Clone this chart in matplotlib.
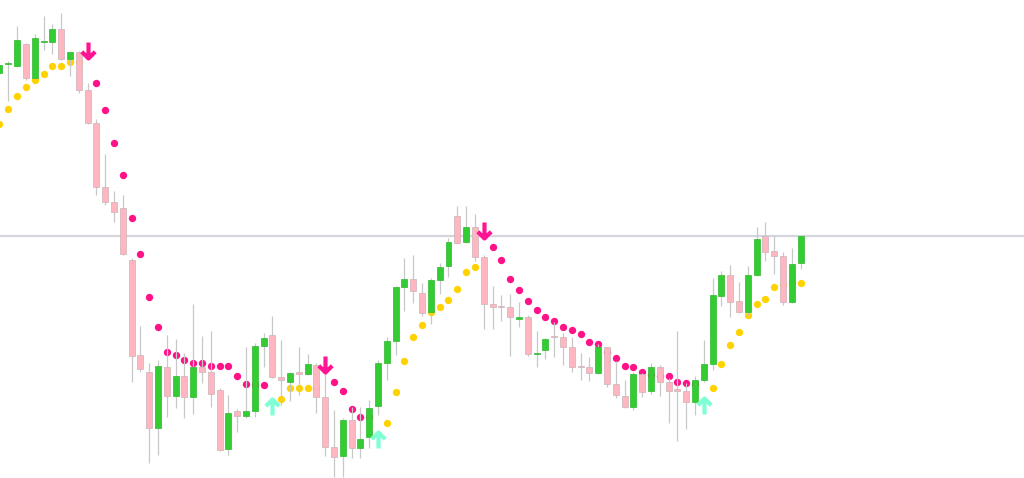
import numpy as np
import matplotlib
matplotlib.use('Agg')
import matplotlib.pyplot as plt
from matplotlib.path import Path

# 캔들 데이터 (차트에서 읽은 값, 화면 위에서부터의 높이 단위)
opens = [73, 64.5, 66, 44, 78, 42.3, 42, 29, 59, 52,
         90, 123, 187, 202, 208, 260, 355, 372, 428, 367,
         396, 376, 397, 367, 372, 390, 449, 411, 416, 411,
         346, 335, 377, 382, 372, 374, 365, 397, 447, 456,
         420, 448, 437, 406, 363, 341, 287, 279, 293, 312,
         280, 266, 216, 242, 227, 257, 304, 306.5, 307, 318.7,
         317, 354, 350, 336, 337, 347, 366.5, 367, 373, 347,
         384, 396, 407, 374, 391, 367, 382, 389, 391, 402,
         380, 364, 296, 275, 301, 312, 275, 236, 251, 256,
         302, 263]
highs = [62, 61, 26, 43, 34, 16, 24, 13, 51, 51,
         83, 119, 154, 191, 195, 258, 326, 363, 360, 335,
         339, 353, 304, 336, 331, 388, 395, 409, 347, 343,
         333, 316, 340, 372, 347, 354, 363, 373, 410, 418,
         407, 407, 400, 360, 337, 286, 258, 255, 283, 278,
         263, 238, 206, 206, 214, 255, 286, 295, 294, 302,
         315, 331, 338, 322, 333, 337, 353, 357, 344, 347,
         361, 380, 372, 373, 363, 365, 378, 331, 383, 376,
         340, 278, 271, 265, 282, 266, 227, 222, 236, 252,
         248, 236]
lows = [75, 101, 67, 80, 79, 50, 54, 60, 76, 93,
        124, 195, 205, 222, 255, 382, 372, 463, 455, 417,
        408, 418, 414, 383, 407, 451, 455, 432, 418, 417,
        367, 378, 405, 401, 395, 375, 413, 456, 477, 477,
        458, 458, 448, 415, 380, 355, 311, 303, 316, 324,
        294, 277, 243, 243, 261, 329, 329, 321, 356, 327,
        356, 367, 359, 357, 365, 372, 380, 381, 374, 387,
        398, 408, 410, 397, 394, 396, 423, 441, 429, 415,
        382, 370, 306, 317, 313, 315, 276, 261, 274, 305,
        303, 269]
closes = [65, 64.5, 40, 78, 38, 42.3, 29, 59.5, 52, 90,
          123, 187, 202, 212, 254, 356, 369, 428, 366, 396,
          376, 397, 367, 372, 394, 450, 413, 416, 411, 346,
          338, 377, 380, 373, 374, 364, 397, 447, 457, 420,
          448, 439, 408, 363, 341, 287, 279, 291, 313, 280,
          267, 242, 243, 227, 257, 304, 307, 307, 317, 317.3,
          354, 354, 339, 337.5, 347, 367, 367, 373, 347, 384,
          395, 407, 374, 392, 367, 382, 391, 391, 402, 380,
          364, 295, 275, 302, 312, 275, 239, 252, 256, 302,
          264, 236]

# 파라볼릭 SAR 점
sar_up_idx = [0, 1, 2, 3, 4, 5, 6, 7, 8, 9,
              32, 33, 34, 35, 36,
              44, 45, 46, 47, 48, 49, 50, 51, 52, 53, 54,
              81, 82, 83, 84, 85, 86, 87, 88, 89, 90, 91]
sar_up = [124, 109.3, 96.3, 87, 80, 74, 65.7, 65.7, 62, 62,
          399, 388, 388, 388, 388,
          422.7, 392.3, 361, 337.3, 324.7, 312.3, 307.3, 300, 289.3, 271.7, 266.7,
          387.7, 364.3, 345, 332, 315, 304.3, 299.3, 287.3, 285, 283.5, 282.7]
sar_dn_idx = list(range(11, 31)) + list(range(38, 43)) + list(range(56, 80))
sar_dn = [83, 110.3, 143.3, 175, 218.3, 254, 297.3, 326.7, 352.3, 355,
          360, 362.7, 362.7, 366, 366, 366, 376, 384.3, 385, 385,
          382, 391.3, 409.3, 417.3, 417,
          246.7, 260.3, 278.7, 290.3, 300.7, 310.3, 317.3, 320.7, 327.3, 330,
          334.3, 342.3, 344.3, 352, 358, 366, 366.7, 372, 375, 376,
          376, 382, 383.5, 384]

# 신호 화살표
arrow_dn_idx = [10, 37, 55]
arrow_dn_y = [50.5, 364.5, 230.5]
arrow_up_idx = [31, 43, 80]
arrow_up_y = [407.5, 440, 406.5]

last_price = 236


def to_price(v):
    return 1.1650 - np.asarray(v, dtype=float) / 10000


o = to_price(opens)
h = to_price(highs)
l = to_price(lows)
c = to_price(closes)
x = np.arange(len(o))

fig = plt.figure(figsize=(10.24, 4.78), dpi=100)
ax = fig.add_axes([0, 0, 1, 1])

# 현재가 라인
ax.axhline(to_price(last_price), color='#d3d7db', lw=1.6, zorder=0)

# SAR
ax.scatter(sar_up_idx, to_price(sar_up), s=28, color='#ffd200', lw=0, zorder=1)
ax.scatter(sar_dn_idx, to_price(sar_dn), s=28, color='#ff1188', lw=0, zorder=1)

# 꼬리
ax.vlines(x, l, h, color='#c8c8c8', lw=0.9, zorder=2)

# 몸통
bull = c >= o
body_h = np.maximum(np.abs(c - o), 0.00012)
bottom = np.minimum(o, c)
ax.bar(x[bull], body_h[bull], bottom=bottom[bull], width=0.68,
       color='#33cc33', edgecolor='#2fb52f', lw=0.5, zorder=3)
ax.bar(x[~bull], body_h[~bull], bottom=bottom[~bull], width=0.68,
       color='#ffb6c1', edgecolor='#c9b4b8', lw=0.5, zorder=3)

# 화살표 마커
down_arrow = Path([(0, 0.5), (0, -0.5), (-0.42, -0.08), (0, -0.5), (0.42, -0.08)],
                  [Path.MOVETO, Path.LINETO, Path.MOVETO, Path.LINETO, Path.LINETO])
up_arrow = Path([(0, -0.5), (0, 0.5), (-0.42, 0.08), (0, 0.5), (0.42, 0.08)],
                [Path.MOVETO, Path.LINETO, Path.MOVETO, Path.LINETO, Path.LINETO])
ax.plot(arrow_dn_idx, to_price(arrow_dn_y), ls='none', marker=down_arrow,
        ms=11.5, mew=3, mec='#ff1493', mfc='none', zorder=4)
ax.plot(arrow_up_idx, to_price(arrow_up_y), ls='none', marker=up_arrow,
        ms=11.5, mew=3, mec='#80ffd5', mfc='none', zorder=4)

ax.set_xlim(0.057, 116.37)
ax.set_ylim(to_price(478), to_price(0))
ax.axis('off')

fig.savefig('out.png', dpi=100, facecolor='white')
